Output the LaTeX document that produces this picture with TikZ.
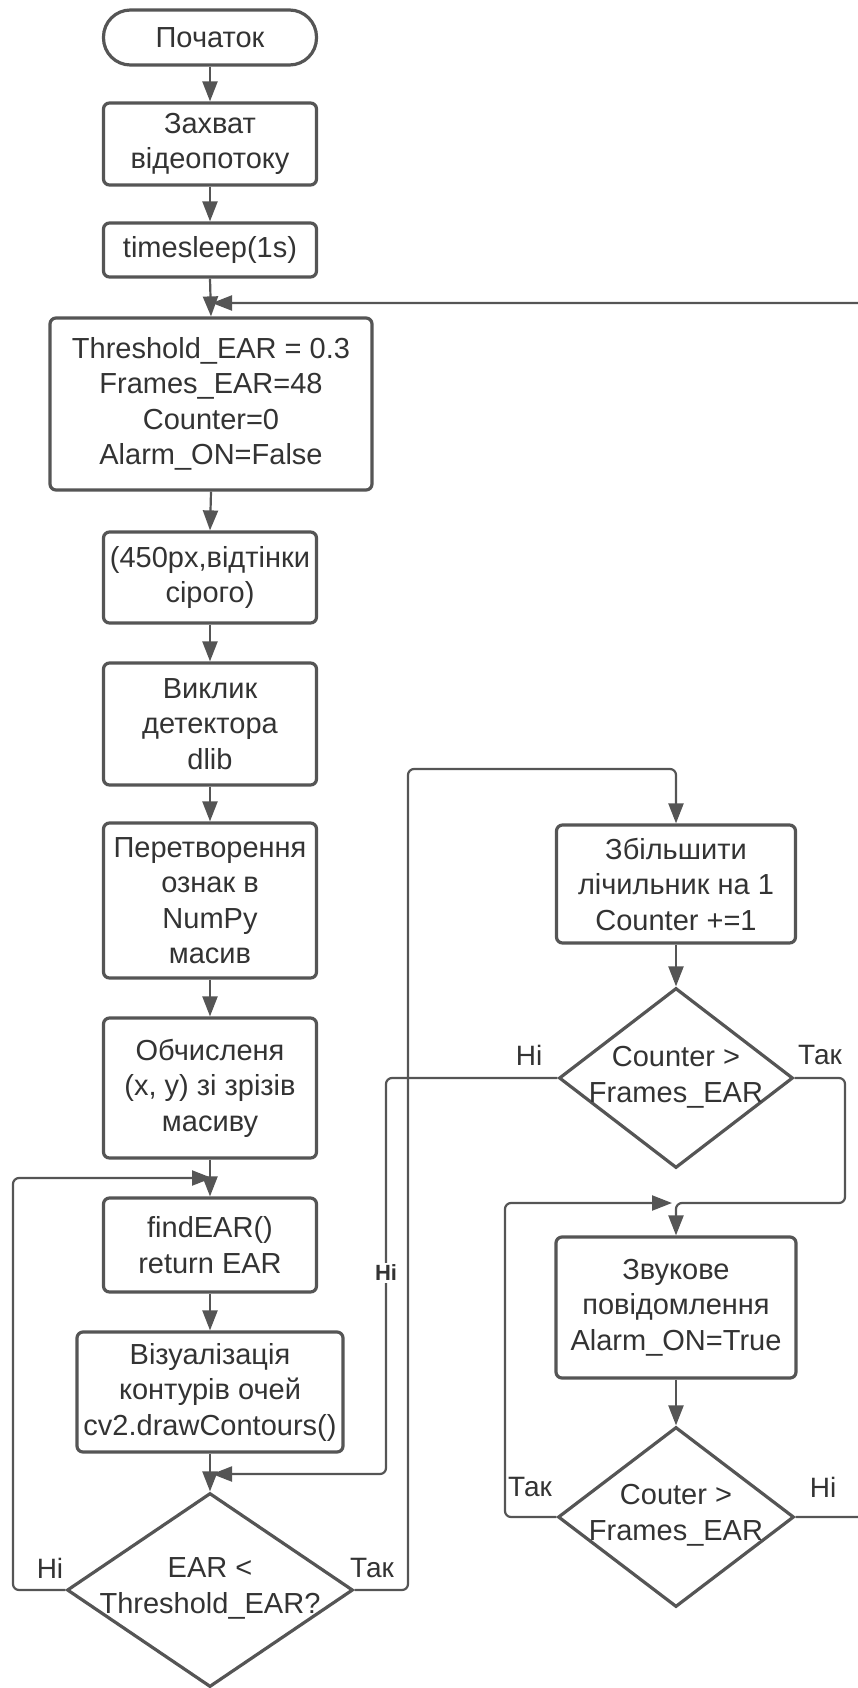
\documentclass[tikz,border=0pt]{standalone}
\usepackage{fontspec}
\setmainfont{Liberation Sans}
\usetikzlibrary{shapes.geometric,arrows.meta}
\definecolor{lc}{RGB}{85,85,85}
\definecolor{tc}{RGB}{51,51,51}
\begin{document}
\begin{tikzpicture}[x=1pt,y=-1pt,
  box/.style={draw=lc, line width=3.2pt, rounded corners=6pt, fill=white, text=tc,
    align=center, inner sep=0pt, minimum width=213pt, font=\fontsize{29}{35.5}\selectfont},
  term/.style={box, rounded corners=27pt},
  dia/.style={diamond, draw=lc, line width=3.2pt, inner sep=0pt, fill=white},
  dtext/.style={text=tc, align=center, inner sep=0pt, font=\fontsize{29}{36}\selectfont},
  conn/.style={draw=lc, line width=2.2pt, rounded corners=6pt, -{Triangle[length=20pt,width=15pt]}},
  lab/.style={text=tc, inner sep=0pt, font=\fontsize{28}{30}\selectfont},
  boldlab/.style={text=tc, fill=white, inner sep=2pt, font=\fontsize{22}{24}\selectfont\bfseries}]
\useasboundingbox (0,0) rectangle (857,1688);

% main column
\node[term, minimum height=55pt] (start) at (210,37.5) {Початок};
\node[box, minimum height=82pt] (cap) at (210,144) {Захват\\відеопотоку};
\node[box, minimum height=54pt] (sleep) at (210,250) {timesleep(1s)};
\node[box, minimum width=322pt, minimum height=172pt] (init) at (211,404) {Threshold\_EAR = 0.3\\Frames\_EAR=48\\Counter=0\\Alarm\_ON=False};
\node[box, minimum height=91pt] (gray) at (210,577.5) {(450px,відтінки\\сірого)};
\node[box, minimum height=122pt] (det) at (210,724) {Виклик\\детектора\\dlib};
\node[box, minimum height=155pt] (conv) at (210,900.5) {Перетворення\\ознак в\\NumPy\\масив};
\node[box, minimum height=140pt] (calc) at (210,1088) {Обчисленя\\(x, y) зі зрізів\\масиву};
\node[box, minimum height=94pt] (find) at (210,1245) {findEAR()\\return EAR};
\node[box, minimum width=266pt, minimum height=120pt] (vis) at (210,1392) {Візуалізація\\контурів очей\\cv2.drawContours()};
\node[dia, minimum width=286pt, minimum height=194pt] (ear) at (210,1590) {};
\node[dtext] (eart) at (210,1588) {EAR <\\Threshold\_EAR?};

% right column
\node[box, minimum width=239pt, minimum height=118pt] (inc) at (676,884) {Збільшити\\лічильник на 1\\Counter +=1};
\node[dia, minimum width=234pt, minimum height=180pt] (cnt) at (676,1078) {};
\node[dtext] (cntt) at (676,1077) {Counter >\\Frames\_EAR};
\node[box, minimum width=240pt, minimum height=141pt] (snd) at (676,1307.5) {Звукове\\повідомлення\\Alarm\_ON=True};
\node[dia, minimum width=236pt, minimum height=180pt] (cou) at (676,1517) {};
\node[dtext] (cout) at (676,1515) {Couter >\\Frames\_EAR};

% junction points
\coordinate (jtop) at (212,303);
\coordinate (jfind) at (212,1178);
\coordinate (jear) at (212,1474);
\coordinate (jsnd) at (672,1203);

% straight flow
\draw[conn] (start.south) -- (cap.north);
\draw[conn] (cap.south) -- (sleep.north);
\draw[conn] (sleep.south) -- (init.north);
\draw[conn] (init.south) -- (gray.north);
\draw[conn] (gray.south) -- (det.north);
\draw[conn] (det.south) -- (conv.north);
\draw[conn] (conv.south) -- (calc.north);
\draw[conn] (calc.south) -- (find.north);
\draw[conn] (find.south) -- (vis.north);
\draw[conn] (vis.south) -- (ear.north);
\draw[conn] (inc.south) -- (cnt.north);
\draw[conn] (snd.south) -- (cou.north);

% loops
\draw[conn] (ear.west) -| (13,1178) -- (jfind);
\draw[conn] (ear.east) -| (408,769) -| (inc.north);
\draw[conn] (cnt.west) -| (386,1474) -- (jear);
\draw[conn] (cnt.east) -| (845,1203) -| (snd.north);
\draw[conn] (cou.west) -| (505,1203) -- (jsnd);
\draw[conn] (cou.east) -| (875,303) -- (jtop);

% labels
\node[boldlab] (nob) at (386,1273) {Ні};
\node[lab] (l1) at (50,1568) {Ні};
\node[lab] (l2) at (372,1568) {Так};
\node[lab] (l3) at (529,1055) {Ні};
\node[lab] (l4) at (820,1055) {Так};
\node[lab] (l5) at (530,1487) {Так};
\node[lab] (l6) at (823,1487) {Ні};
\end{tikzpicture}
\end{document}
